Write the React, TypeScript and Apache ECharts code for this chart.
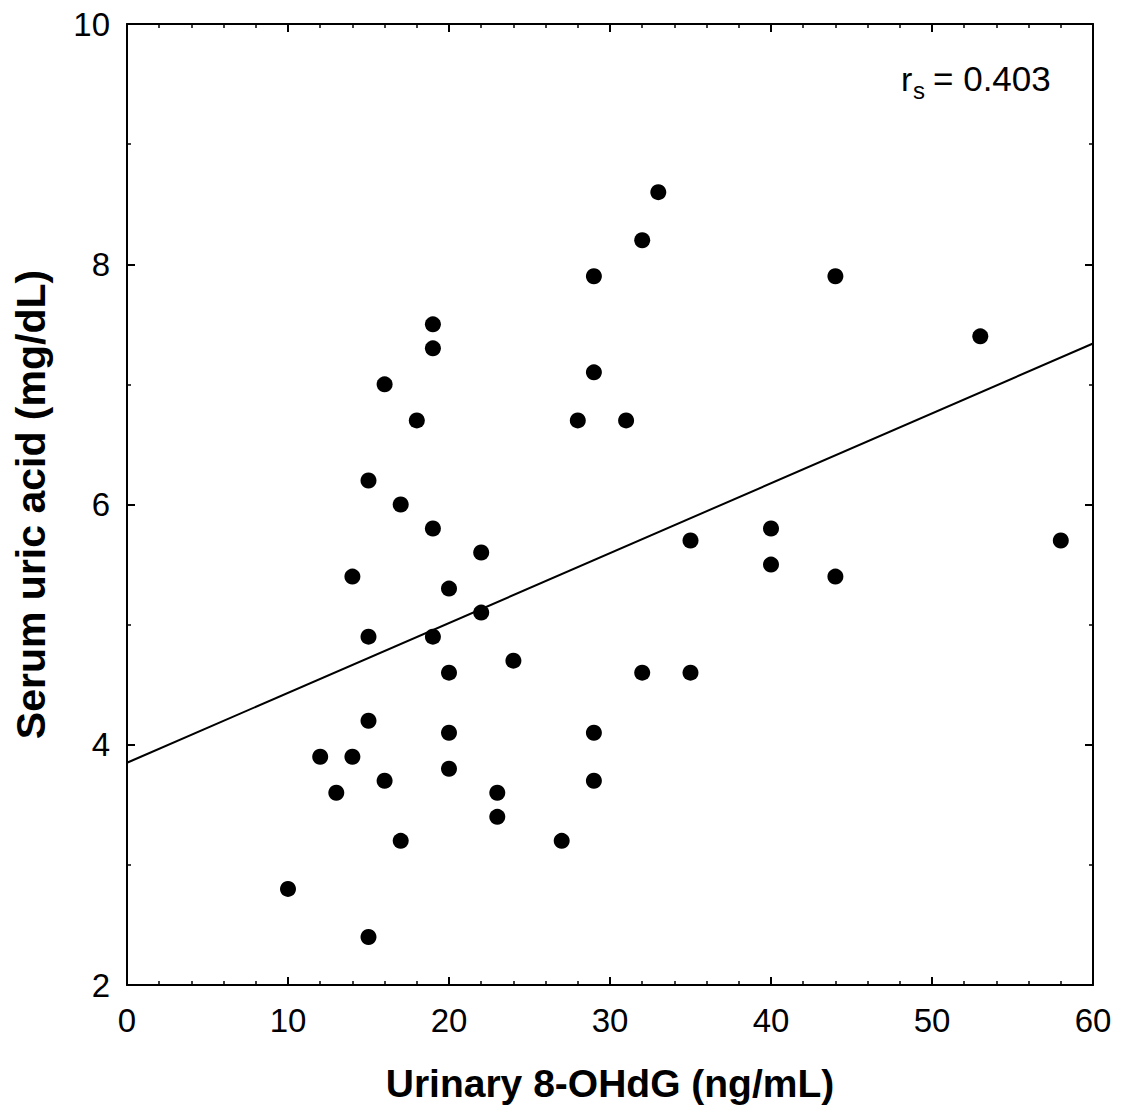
import React, { useEffect, useRef } from "react";
import * as echarts from "echarts";

const xValues = [10, 15, 12, 13, 14, 14, 15, 15, 15, 16, 16, 17, 17, 18, 19, 19, 19, 19, 20, 20, 20, 20, 22, 22, 23, 23, 24, 27, 28, 29, 29, 29, 29, 31, 32, 32, 33, 35, 35, 40, 40, 44, 44, 53, 58];
const yValues = [2.8, 2.4, 3.9, 3.6, 3.9, 5.4, 4.2, 4.9, 6.2, 3.7, 7.0, 3.2, 6.0, 6.7, 7.5, 7.3, 5.8, 4.9, 5.3, 4.6, 4.1, 3.8, 5.6, 5.1, 3.6, 3.4, 4.7, 3.2, 6.7, 7.9, 7.1, 4.1, 3.7, 6.7, 8.2, 4.6, 8.6, 5.7, 4.6, 5.8, 5.5, 7.9, 5.4, 7.4, 5.7];
const fitX = [0, 60];
const fitY = [3.85, 7.34];
const xTitle = "Urinary 8-OHdG (ng/mL)";
const yTitle = "Serum uric acid (mg/dL)";
const statLabel = ["r", "s", "= 0.403"];

const FONT = "'Liberation Sans', Arial, sans-serif";

export default function App() {
  const ref = useRef<HTMLDivElement>(null);
  useEffect(() => {
    if (!ref.current) return;
    const chart = echarts.init(ref.current, undefined, { renderer: "svg" });
    const axisCommon = {
      axisLine: { show: true, onZero: false, lineStyle: { color: "#000", width: 2 } },
      axisTick: { show: true, inside: true, length: 8, lineStyle: { color: "#000", width: 2 } },
      minorTick: { show: true, length: 4, lineStyle: { color: "#000", width: 1.5 } },
      splitLine: { show: false },
      minorSplitLine: { show: false },
    };
    chart.setOption({
      animation: false,
      backgroundColor: "#fff",
      grid: { left: 127, right: 30, top: 24, bottom: 128 },
      xAxis: [
        {
          type: "value",
          min: 0,
          max: 60,
          interval: 10,
          position: "bottom",
          ...axisCommon,
          minorTick: { ...axisCommon.minorTick, splitNumber: 5 },
          axisLabel: { color: "#000", fontSize: 33, fontFamily: FONT, margin: 19 },
          name: xTitle,
          nameLocation: "middle",
          nameGap: 79,
          nameTextStyle: { color: "#000", fontSize: 39, fontWeight: "bold", fontFamily: FONT },
        },
        {
          type: "value",
          min: 0,
          max: 60,
          interval: 10,
          position: "top",
          ...axisCommon,
          minorTick: { ...axisCommon.minorTick, splitNumber: 5 },
          axisLabel: { show: false },
        },
      ],
      yAxis: [
        {
          type: "value",
          min: 2,
          max: 10,
          interval: 2,
          position: "left",
          ...axisCommon,
          minorTick: { ...axisCommon.minorTick, splitNumber: 2 },
          axisLabel: { color: "#000", fontSize: 33, fontFamily: FONT, margin: 17 },
          name: yTitle,
          nameLocation: "middle",
          nameGap: 76,
          nameRotate: 90,
          nameTextStyle: { color: "#000", fontSize: 41, fontWeight: "bold", fontFamily: FONT },
        },
        {
          type: "value",
          min: 2,
          max: 10,
          interval: 2,
          position: "right",
          ...axisCommon,
          minorTick: { ...axisCommon.minorTick, splitNumber: 2 },
          axisLabel: { show: false },
        },
      ],
      graphic: [
        { type: "text", x: 901, y: 78.5, style: { text: statLabel[0], font: `34px ${FONT}`, fill: "#000", verticalAlign: "middle" } },
        { type: "text", x: 913, y: 90, style: { text: statLabel[1], font: `24px ${FONT}`, fill: "#000", verticalAlign: "middle" } },
        { type: "text", x: 933, y: 78.5, style: { text: statLabel[2], font: `35px ${FONT}`, fill: "#000", verticalAlign: "middle" } },
      ],
      series: [
        {
          type: "line",
          data: fitX.map((x, i) => [x, fitY[i]]),
          symbol: "none",
          lineStyle: { color: "#000", width: 2 },
          z: 2,
        },
        {
          type: "scatter",
          data: xValues.map((x, i) => [x, yValues[i]]),
          symbol: "circle",
          symbolSize: 16,
          itemStyle: { color: "#000", opacity: 1 },
          z: 3,
        },
      ],
    });
    return () => chart.dispose();
  }, []);
  return (
    <div
      ref={ref}
      style={{ position: "fixed", left: 0, top: 0, width: 1123, height: 1113 }}
    />
  );
}
